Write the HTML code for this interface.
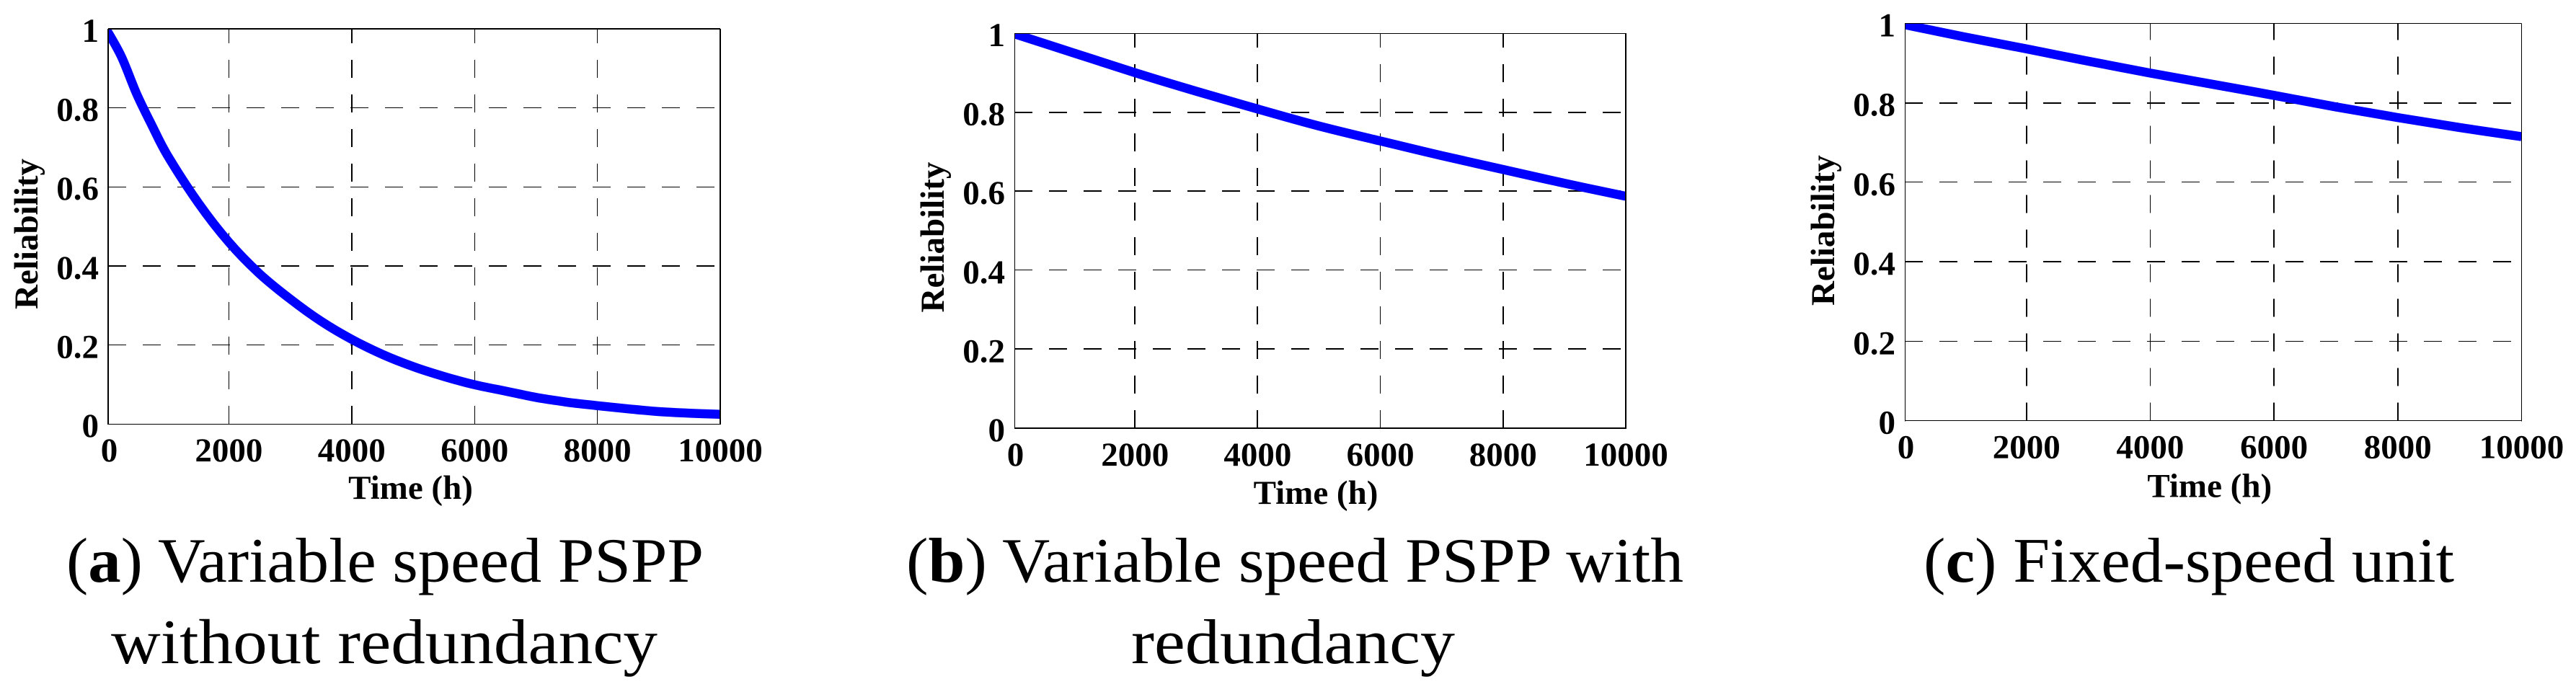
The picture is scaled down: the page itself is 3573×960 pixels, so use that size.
<!DOCTYPE html>
<html lang="en">
<head>
<meta charset="utf-8">
<title>Reliability curves</title>
<style>
html,body{margin:0;padding:0;background:#fff;width:3573px;height:960px;overflow:hidden}
svg{display:block}
.tick{font:bold 47px "Liberation Serif",serif;fill:#000}
.axis-title{font:bold 47px "Liberation Serif",serif;fill:#000}
.caption{font:88px "Liberation Serif",serif;fill:#000}
.caption tspan{font-weight:bold}
</style>
</head>
<body>
<svg id="figure" xmlns="http://www.w3.org/2000/svg" width="3573" height="960" viewBox="0 0 3573 960">
  <rect width="3573" height="960" fill="#fff"/>
  <text class="caption" x="92" y="807" textLength="884" lengthAdjust="spacingAndGlyphs">(<tspan>a</tspan>) Variable speed PSPP</text>
  <text class="caption" x="154" y="920" textLength="758" lengthAdjust="spacingAndGlyphs">without redundancy</text>
  <text class="caption" x="1257" y="807" textLength="1078" lengthAdjust="spacingAndGlyphs">(<tspan>b</tspan>) Variable speed PSPP with</text>
  <text class="caption" x="1569" y="920" textLength="449" lengthAdjust="spacingAndGlyphs">redundancy</text>
  <text class="caption" x="2668" y="807" textLength="736" lengthAdjust="spacingAndGlyphs">(<tspan>c</tspan>) Fixed-speed unit</text>
</svg>
<script>
// Chart data
const xTicks = [0, 2000, 4000, 6000, 8000, 10000];
const xTickLabels = ["0", "2000", "4000", "6000", "8000", "10000"];
const yTicks = [0, 0.2, 0.4, 0.6, 0.8, 1];
const yTickLabels = ["0", "0.2", "0.4", "0.6", "0.8", "1"];
const xTitle = "Time (h)";
const yTitle = "Reliability";

const timeA = [0, 250, 500, 750, 1000, 1500, 2000, 2500, 3000, 3500, 4000, 4500, 5000, 5500, 6000, 6500, 7000, 7500, 8000, 8500, 9000, 9500, 10000];
const reliabilityA = [1.0, 0.93, 0.835, 0.755, 0.68, 0.56, 0.46, 0.38, 0.316, 0.26, 0.214, 0.176, 0.145, 0.12, 0.099, 0.083, 0.067, 0.055, 0.046, 0.038, 0.031, 0.027, 0.024];

const timeB = [0, 1000, 2000, 3000, 4000, 5000, 6000, 7000, 8000, 9000, 10000];
const reliabilityB = [1.0, 0.95, 0.90, 0.853, 0.808, 0.765, 0.727, 0.69, 0.655, 0.62, 0.587];

const timeC = [0, 1000, 2000, 3000, 4000, 5000, 6000, 7000, 8000, 9000, 10000];
const reliabilityC = [0.998, 0.966, 0.936, 0.905, 0.875, 0.847, 0.819, 0.79, 0.763, 0.738, 0.715];

// Axis domain: the frame starts slightly after t=0 in the source figure
const xDomain = [35, 10000];
const yDomain = [0, 1];

const panels = [
  {id: "a", L: 150, R: 999, T: 40, B: 588, time: timeA, values: reliabilityA, boldX: [4000], boldY: [0.4], frame: {top: 2, left: 2, right: 2, bottom: 1}, titleOffset: 10.5, xTitleOffset: -5, xTitleY: 104},
  {id: "b", L: 1407, R: 2255, T: 46, B: 594, time: timeB, values: reliabilityB, boldX: [2000, 4000, 8000], boldY: [0.2, 0.6, 0.8], frame: {top: 1, left: 1, right: 2, bottom: 2}, titleOffset: 9, xTitleOffset: -6, xTitleY: 105},
  {id: "c", L: 2642, R: 3497.5, T: 32.5, B: 583.7, time: timeC, values: reliabilityC, boldX: [2000, 6000, 8000], boldY: [0.4, 0.8], frame: {top: 1, left: 1, right: 1, bottom: 1}, titleOffset: 11.5, xTitleOffset: -5, xTitleY: 106}
];

const svgNS = "http://www.w3.org/2000/svg";
const root = document.getElementById("figure");

function make(tag, attrs, parent) {
  const el = document.createElementNS(svgNS, tag);
  for (const k in attrs) el.setAttribute(k, attrs[k]);
  parent.appendChild(el);
  return el;
}

function snap(v, width) {
  return width % 2 === 1 ? Math.floor(v) + 0.5 : Math.round(v);
}

function smoothPath(pts) {
  let d = "M" + pts[0][0].toFixed(1) + " " + pts[0][1].toFixed(1);
  for (let i = 0; i < pts.length - 1; i++) {
    const p0 = pts[Math.max(i - 1, 0)];
    const p1 = pts[i];
    const p2 = pts[i + 1];
    const p3 = pts[Math.min(i + 2, pts.length - 1)];
    const c1x = p1[0] + (p2[0] - p0[0]) / 6;
    const c1y = p1[1] + (p2[1] - p0[1]) / 6;
    const c2x = p2[0] - (p3[0] - p1[0]) / 6;
    const c2y = p2[1] - (p3[1] - p1[1]) / 6;
    d += "C" + c1x.toFixed(1) + " " + c1y.toFixed(1) + " " + c2x.toFixed(1) + " " + c2y.toFixed(1) + " " + p2[0].toFixed(1) + " " + p2[1].toFixed(1);
  }
  return d;
}

panels.forEach(function (p) {
  const xScale = function (t) { return p.L + (t - xDomain[0]) / (xDomain[1] - xDomain[0]) * (p.R - p.L); };
  const yScale = function (v) { return p.B - (v - yDomain[0]) / (yDomain[1] - yDomain[0]) * (p.B - p.T); };

  const g = make("g", {}, root);
  
  

  // Grid
  xTicks.forEach(function (t) {
    if (t <= 0 || t >= 10000) return;
    const w = p.boldX.includes(t) ? 2 : 1;
    const x = snap(xScale(t), w);
    const line = make("line", {x1: x, x2: x, y1: p.B, y2: p.T, stroke: "#000", "stroke-width": w, "stroke-dasharray": "25 23", "shape-rendering": "crispEdges"}, g);
    
    
  });
  yTicks.forEach(function (v) {
    if (v <= 0 || v >= 1) return;
    const w = p.boldY.includes(v) ? 2 : 1;
    const y = snap(yScale(v), w);
    const line = make("line", {x1: p.L, x2: p.R, y1: y, y2: y, stroke: "#000", "stroke-width": w, "stroke-dasharray": "25 23", "shape-rendering": "crispEdges"}, g);
    
    
  });

  // Series, clipped to the plot frame
  const clip = make("clipPath", {id: "clip-" + p.id}, g);
  make("rect", {x: p.L, y: p.T, width: p.R - p.L, height: p.B - p.T}, clip);
  const pts = p.time.map(function (t, i) { return [xScale(t), yScale(p.values[i])]; });
  const curve = make("path", {d: smoothPath(pts), fill: "none", stroke: "#0000ff", "stroke-width": 12.5, "stroke-linejoin": "round", "clip-path": "url(#clip-" + p.id + ")"}, g);
  
  

  // Frame, each side with its own weight
  const sides = [
    ['frame-top', p.L, snap(p.T, p.frame.top), p.R, snap(p.T, p.frame.top), p.frame.top],
    ['frame-bottom', p.L, snap(p.B, p.frame.bottom), p.R, snap(p.B, p.frame.bottom), p.frame.bottom],
    ['frame-left', snap(p.L, p.frame.left), p.T, snap(p.L, p.frame.left), p.B + 1, p.frame.left],
    ['frame-right', snap(p.R, p.frame.right), p.T, snap(p.R, p.frame.right), p.B + 1, p.frame.right]
  ];
  sides.forEach(function (s) {
    const side = make("line", {x1: s[1], y1: s[2], x2: s[3], y2: s[4], stroke: "#000", "stroke-width": s[5], "shape-rendering": "crispEdges"}, g);
    
    
  });

  // Tick labels
  xTicks.forEach(function (t, i) {
    const label = make("text", {x: Math.max(xScale(t), p.L + 1.5), y: p.B + 52, "text-anchor": "middle", class: "tick"}, g);
    label.textContent = xTickLabels[i];
    
    
  });
  yTicks.forEach(function (v, i) {
    const label = make("text", {x: p.L - 13, y: yScale(v) + 18, "text-anchor": "end", class: "tick"}, g);
    label.textContent = yTickLabels[i];
    
    
  });

  // Axis titles
  const xt = make("text", {x: (p.L + p.R) / 2 + p.xTitleOffset, y: p.B + p.xTitleY, "text-anchor": "middle", class: "axis-title"}, g);
  xt.textContent = xTitle;
  
  

  const yx = p.L - 98;
  const yy = (p.T + p.B) / 2 + p.titleOffset;
  const yt = make("text", {x: yx, y: yy, "text-anchor": "middle", class: "axis-title", transform: "rotate(-90 " + yx + " " + yy + ")"}, g);
  yt.textContent = yTitle;
  
  
});
</script>
</body>
</html>
